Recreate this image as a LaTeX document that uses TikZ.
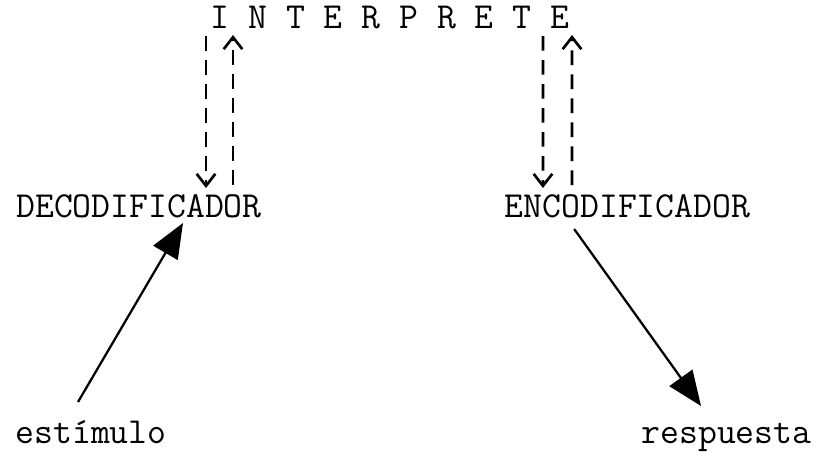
\documentclass[tikz,border=0pt]{standalone}
\usepackage{fontspec}
\usetikzlibrary{arrows.meta}

\begin{document}
\begin{tikzpicture}[x=0.75pt,y=-0.75pt]
				\tikzstyle{Word} = [inner sep=0pt, font=\ttfamily\fontsize{27.5}{30}\selectfont]
				\tikzstyle{dasharrow} = [line width=2pt, dash pattern=on 11pt off 7pt, -{Straight Barb[length=9pt,width=14pt,line width=2pt]}]
				\tikzstyle{arrow} = [line width=1.7pt, -{Triangle[length=26pt,width=21pt]}]
				\useasboundingbox (0,0) rectangle (816,451);

				\node (interp) [Word, anchor=base] at (390,28) {I N T E R P R E T E};
				\node (deco) [Word, anchor=base] at (139,217) {DECODIFICADOR};
				\node (enco) [Word, anchor=base] at (627.5,217) {ENCODIFICADOR};
				\node (estim) [Word, anchor=base] at (91,443) {estímulo};
				\node (resp) [Word, anchor=base] at (726.5,443) {respuesta};

				\draw [dasharrow] ([xshift=-138pt,yshift=-6pt]interp.base) -- ([xshift=50.25pt,yshift=21.75pt]deco.base);
				\draw [dasharrow] ([xshift=70.5pt,yshift=24pt]deco.base) -- ([xshift=-117.75pt,yshift=-5.25pt]interp.base);
				\draw [dasharrow] ([xshift=114.75pt,yshift=-6pt]interp.base) -- ([xshift=-63.4pt,yshift=21.75pt]enco.base);
				\draw [dasharrow] ([xshift=-41.6pt,yshift=24pt]enco.base) -- ([xshift=136.5pt,yshift=-5.25pt]interp.base);
				\draw [arrow] ([xshift=-9.75pt,yshift=30.75pt]estim.base) -- ([xshift=33pt,yshift=-4.5pt]deco.base);
				\draw [arrow] ([xshift=-40pt,yshift=-9pt]enco.base) -- ([xshift=-19.1pt,yshift=27.75pt]resp.base);
			\end{tikzpicture}
\end{document}
